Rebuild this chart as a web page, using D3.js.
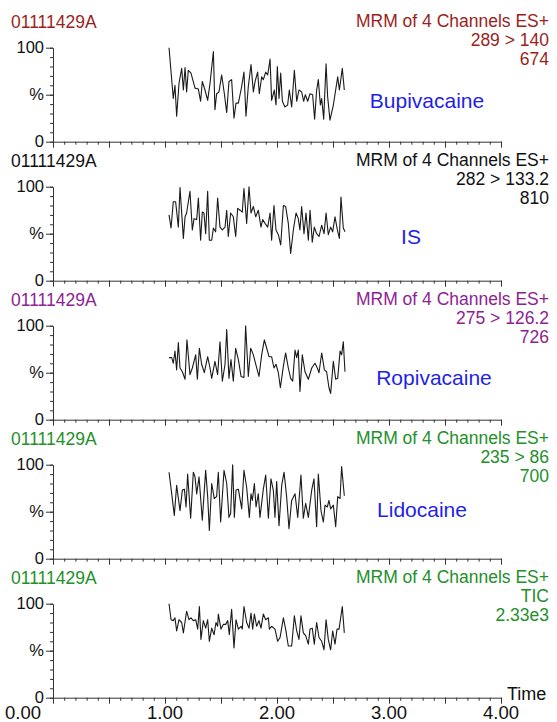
<!DOCTYPE html>
<html>
<head>
<meta charset="utf-8">
<script src="https://cdn.jsdelivr.net/npm/d3@7"></script>
<style>
  body { margin: 0; background: #fff; }
  text { font-family: "Liberation Sans", Arial, sans-serif; }
</style>
</head>
<body>
<script>
// channel headers
const sampleName = "01111429A";
const functionName = "MRM of 4 Channels ES+";
const transitions = ["289 > 140", "282 > 133.2", "275 > 126.2", "235 > 86", "TIC"];
const intensities = ["674", "810", "726", "700", "2.33e3"];
const compounds = ["Bupivacaine", "IS", "Ropivacaine", "Lidocaine", ""];
const headerColors = ["#9a1f22", "#111111", "#8e2390", "#23902a", "#23902a"];

const timeTicks = [0, 1, 2, 3, 4];

// traces: [time (min), % of channel max]
const bupivacaine = [[1.036,100],[1.074,46],[1.089,60],[1.104,27],[1.125,62],[1.149,78],[1.164,55],[1.179,79],[1.193,53],[1.208,76],[1.232,73],[1.268,57],[1.298,56],[1.318,43],[1.333,64],[1.357,55],[1.381,44],[1.402,62],[1.432,96],[1.446,34],[1.461,51],[1.482,53],[1.506,71],[1.530,51],[1.551,31],[1.571,64],[1.595,66],[1.616,25],[1.634,41],[1.655,41],[1.685,59],[1.705,74],[1.723,27],[1.744,59],[1.768,82],[1.789,53],[1.804,64],[1.827,74],[1.842,51],[1.863,69],[1.878,66],[1.899,74],[1.917,71],[1.938,88],[1.952,44],[1.976,55],[1.991,39],[2.003,80],[2.018,46],[2.033,73],[2.048,43],[2.071,37],[2.095,39],[2.110,55],[2.131,37],[2.155,76],[2.176,43],[2.196,55],[2.220,53],[2.238,43],[2.253,50],[2.274,43],[2.295,51],[2.318,50],[2.336,24],[2.354,55],[2.369,66],[2.387,39],[2.399,46],[2.417,24],[2.438,83],[2.452,48],[2.473,23],[2.503,39],[2.542,69],[2.557,55],[2.583,78],[2.601,55]];
const internalStd = [[1.036,70],[1.054,56],[1.074,84],[1.095,84],[1.119,57],[1.134,99],[1.164,45],[1.179,68],[1.193,72],[1.223,95],[1.244,54],[1.259,66],[1.283,65],[1.298,88],[1.318,43],[1.333,73],[1.348,72],[1.363,50],[1.381,95],[1.396,43],[1.417,43],[1.432,56],[1.452,52],[1.470,88],[1.491,57],[1.512,54],[1.536,57],[1.551,75],[1.565,47],[1.586,72],[1.610,68],[1.631,47],[1.649,77],[1.670,75],[1.690,73],[1.705,98],[1.729,61],[1.750,100],[1.768,72],[1.789,79],[1.810,68],[1.833,75],[1.857,57],[1.872,65],[1.893,61],[1.917,57],[1.938,72],[1.952,43],[1.973,80],[1.991,54],[2.012,49],[2.033,38],[2.057,80],[2.077,79],[2.101,61],[2.122,29],[2.146,54],[2.170,72],[2.190,66],[2.205,54],[2.220,79],[2.241,50],[2.259,72],[2.280,43],[2.295,75],[2.315,41],[2.333,57],[2.354,50],[2.375,47],[2.399,59],[2.420,50],[2.438,72],[2.458,49],[2.479,57],[2.497,52],[2.518,68],[2.539,54],[2.557,45],[2.571,89],[2.592,56],[2.607,52]];
const ropivacaine = [[1.036,66],[1.060,66],[1.074,60],[1.089,73],[1.104,53],[1.119,82],[1.134,55],[1.155,51],[1.179,43],[1.196,85],[1.223,48],[1.244,55],[1.274,69],[1.289,43],[1.307,76],[1.327,59],[1.351,50],[1.381,67],[1.402,55],[1.417,44],[1.446,62],[1.470,48],[1.491,83],[1.512,41],[1.536,59],[1.551,96],[1.571,44],[1.589,64],[1.610,41],[1.631,76],[1.655,64],[1.679,46],[1.705,45],[1.720,100],[1.744,46],[1.765,76],[1.789,69],[1.810,59],[1.839,46],[1.863,69],[1.887,85],[1.908,76],[1.929,67],[1.952,67],[1.973,55],[1.991,59],[2.012,50],[2.030,34],[2.057,57],[2.077,71],[2.101,55],[2.122,44],[2.140,41],[2.161,74],[2.176,66],[2.190,74],[2.205,30],[2.226,69],[2.250,51],[2.280,43],[2.310,55],[2.339,60],[2.360,55],[2.375,50],[2.399,71],[2.423,53],[2.443,51],[2.464,34],[2.479,28],[2.503,62],[2.524,43],[2.542,44],[2.563,73],[2.577,69],[2.592,83],[2.607,51]];
const lidocaine = [[1.036,92],[1.060,69],[1.083,46],[1.104,78],[1.134,51],[1.155,73],[1.173,74],[1.188,55],[1.202,90],[1.229,43],[1.253,92],[1.268,87],[1.283,69],[1.304,87],[1.333,41],[1.363,94],[1.381,66],[1.396,30],[1.417,80],[1.440,64],[1.461,66],[1.476,92],[1.497,39],[1.527,94],[1.551,80],[1.571,44],[1.586,48],[1.604,100],[1.619,44],[1.634,73],[1.655,74],[1.685,53],[1.705,94],[1.729,76],[1.753,44],[1.768,69],[1.780,62],[1.798,80],[1.813,55],[1.833,69],[1.848,44],[1.878,74],[1.899,89],[1.923,43],[1.946,85],[1.967,73],[1.982,44],[1.997,82],[2.018,35],[2.042,78],[2.063,92],[2.086,66],[2.107,32],[2.131,62],[2.161,69],[2.185,44],[2.214,89],[2.235,43],[2.256,59],[2.280,44],[2.310,73],[2.330,85],[2.354,34],[2.369,90],[2.393,51],[2.414,39],[2.429,57],[2.449,55],[2.464,62],[2.479,53],[2.503,57],[2.524,34],[2.542,66],[2.563,64],[2.577,98],[2.601,67]];
const totalIon = [[1.036,100],[1.054,83],[1.074,82],[1.089,85],[1.104,71],[1.125,83],[1.149,80],[1.164,69],[1.193,92],[1.214,83],[1.232,85],[1.253,82],[1.274,83],[1.292,73],[1.307,97],[1.321,62],[1.342,82],[1.363,74],[1.381,83],[1.396,60],[1.417,74],[1.438,67],[1.455,80],[1.470,76],[1.476,89],[1.500,73],[1.521,78],[1.542,78],[1.560,82],[1.574,67],[1.595,94],[1.616,53],[1.634,83],[1.655,73],[1.679,76],[1.690,73],[1.705,97],[1.729,80],[1.750,74],[1.768,90],[1.783,73],[1.798,89],[1.818,76],[1.839,82],[1.857,74],[1.878,89],[1.899,83],[1.923,85],[1.932,73],[1.952,76],[1.982,73],[2.006,60],[2.027,64],[2.057,85],[2.077,73],[2.101,55],[2.131,55],[2.155,87],[2.176,71],[2.196,62],[2.214,87],[2.235,69],[2.256,66],[2.280,57],[2.295,73],[2.315,74],[2.333,57],[2.354,80],[2.375,64],[2.399,60],[2.420,51],[2.438,83],[2.458,62],[2.479,51],[2.497,71],[2.518,57],[2.536,73],[2.554,73],[2.583,97],[2.601,69]];
const traces = [bupivacaine, internalStd, ropivacaine, lidocaine, totalIon];

// layout
const width = 557, height = 722;
const marginLeft = 53, marginRight = 56;
const firstTop = 47.7, panelStep = 139, plotHeight = 94;
const labelSpots = [[427, 60], [411, 57], [434, 59], [422, 52]];

const svg = d3.select("body").append("svg")
    .attr("width", width)
    .attr("height", height)
    .attr("viewBox", [0, 0, width, height]);

const x = d3.scaleLinear()
    .domain([0, 4])
    .range([marginLeft, width - marginRight]);

const minorX = d3.range(0, 41).map(d => d / 10);
const majorX = d3.range(0, 9).map(d => d / 2);

traces.forEach((trace, i) => {
    const top = firstTop + i * panelStep;
    const y = d3.scaleLinear().domain([0, 100]).range([top + plotHeight, top]);
    const g = svg.append("g");

    // header texts
    g.append("text")
        .attr("x", 11).attr("y", top - 20)
        .attr("fill", headerColors[i])
        .style("font-size", "17.5px")
        .text(sampleName);
    [functionName, transitions[i], intensities[i]].forEach((t, k) => {
        g.append("text")
            .attr("x", 549).attr("y", top - 20.5 + k * 19)
            .attr("text-anchor", "end")
            .attr("fill", headerColors[i])
            .style("font-size", "17.5px")
            .text(t);
    });

    // x axis (minor + major ticks)
    g.append("g")
        .attr("transform", `translate(0,${top + plotHeight})`)
        .call(d3.axisBottom(x).tickValues(minorX).tickSize(3).tickSizeOuter(0).tickFormat(""))
        .call(a => a.selectAll("line, path").attr("stroke", "#333"));
    g.append("g")
        .attr("transform", `translate(0,${top + plotHeight})`)
        .call(d3.axisBottom(x).tickValues(majorX).tickSize(6).tickSizeOuter(0).tickFormat(""))
        .call(a => a.select(".domain").remove())
        .call(a => a.selectAll("line").attr("stroke", "#333"));

    // y axis
    g.append("g")
        .attr("transform", `translate(${marginLeft},0)`)
        .call(d3.axisLeft(y).tickValues(d3.range(0, 101, 10)).tickSize(3).tickSizeOuter(0).tickFormat(""))
        .call(a => a.selectAll("line, path").attr("stroke", "#333"));
    g.append("g")
        .attr("transform", `translate(${marginLeft},0)`)
        .call(d3.axisLeft(y).tickValues([0, 50, 100]).tickSize(7).tickPadding(2)
            .tickFormat(d => d === 50 ? "%" : d))
        .call(a => a.select(".domain").remove())
        .call(a => a.selectAll("line").attr("stroke", "#333"))
        .call(a => a.selectAll("text")
            .attr("fill", "#111")
            .style("font-family", "'Liberation Sans', Arial, sans-serif")
            .style("font-size", "16.5px"));

    // trace
    g.append("path")
        .datum(trace)
        .attr("fill", "none")
        .attr("stroke", "#1a1a1a")
        .attr("stroke-width", 1.1)
        .attr("stroke-linejoin", "round")
        .attr("d", d3.line().x(d => x(d[0])).y(d => y(d[1])));

    // compound name
    if (compounds[i]) {
        g.append("text")
            .attr("x", labelSpots[i][0]).attr("y", top + labelSpots[i][1])
            .attr("text-anchor", "middle")
            .attr("fill", "#1f1fe8")
            .style("font-size", "21px")
            .text(compounds[i]);
    }

    // time labels on the last panel only
    if (i === traces.length - 1) {
        const base = top + plotHeight;
        g.selectAll(".tl")
            .data(timeTicks)
            .join("text")
            .attr("x", d => d === 0 ? x(d) - 30 : x(d))
            .attr("y", base + 21)
            .attr("text-anchor", "middle")
            .attr("fill", "#111")
            .style("font-size", "18.5px")
            .text(d => d.toFixed(2));
        g.append("text")
            .attr("x", x(4) + 6).attr("y", base + 2.5)
            .attr("fill", "#111")
            .style("font-size", "18px")
            .text("Time");
    }
});
</script>
</body>
</html>
